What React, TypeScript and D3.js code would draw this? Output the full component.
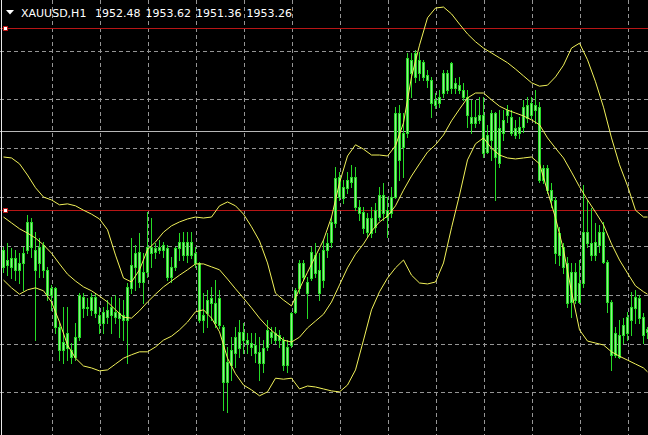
import React, { useEffect } from "react";
import * as d3 from "d3";

const W = 648;
const H = 435;

const symbol = "XAUUSD,H1";

// [open, high, low, close] per H1 bar, oldest first
const candles: [number, number, number, number][] = [
  [1965.9, 1970.0, 1964.8, 1969.4], [1967.3, 1970.8, 1964.2, 1966.3], [1965.9, 1969.8, 1963.6, 1967.7],
  [1967.7, 1969.4, 1963.2, 1965.3], [1965.3, 1968.7, 1962.6, 1966.7], [1966.7, 1970.0, 1961.2, 1968.7],
  [1969.4, 1976.5, 1968.7, 1975.1], [1975.1, 1975.9, 1967.9, 1970.0], [1969.4, 1973.0, 1950.9, 1965.3],
  [1966.7, 1971.8, 1963.8, 1970.0], [1970.4, 1971.0, 1963.8, 1965.3], [1965.3, 1965.9, 1959.1, 1960.1],
  [1960.1, 1962.2, 1957.1, 1961.6], [1961.6, 1961.8, 1952.4, 1953.6], [1953.6, 1954.4, 1946.8, 1948.9],
  [1948.9, 1957.7, 1946.2, 1950.5], [1949.3, 1957.7, 1946.8, 1952.4], [1948.9, 1950.3, 1946.2, 1947.4],
  [1947.4, 1954.4, 1946.8, 1951.5], [1951.5, 1960.5, 1950.9, 1960.1], [1959.7, 1960.5, 1955.6, 1957.5],
  [1957.5, 1959.5, 1956.0, 1957.7], [1957.1, 1960.5, 1956.0, 1959.7], [1959.7, 1960.5, 1955.6, 1956.4],
  [1956.0, 1957.7, 1952.4, 1954.4], [1954.4, 1957.7, 1952.4, 1956.7], [1957.1, 1959.1, 1954.4, 1955.6],
  [1956.0, 1959.7, 1952.4, 1957.7], [1956.7, 1960.1, 1954.4, 1955.6], [1956.4, 1959.5, 1951.5, 1955.4],
  [1956.0, 1959.1, 1950.9, 1955.0], [1955.0, 1962.6, 1946.2, 1961.8], [1961.6, 1971.8, 1960.5, 1966.3],
  [1965.9, 1970.4, 1961.2, 1968.7], [1968.9, 1972.8, 1961.8, 1962.8], [1962.8, 1968.7, 1958.5, 1964.8],
  [1964.8, 1977.1, 1963.8, 1970.0], [1970.0, 1975.9, 1965.9, 1968.7], [1968.9, 1970.8, 1967.7, 1969.8],
  [1969.4, 1971.4, 1968.7, 1970.0], [1969.4, 1971.0, 1967.9, 1970.4], [1969.8, 1970.4, 1963.2, 1963.8],
  [1963.8, 1967.9, 1962.8, 1965.9], [1965.9, 1970.0, 1965.3, 1969.8], [1969.8, 1972.8, 1967.3, 1971.0],
  [1971.0, 1973.0, 1967.3, 1968.3], [1968.3, 1973.0, 1966.9, 1971.0], [1971.0, 1973.0, 1967.7, 1968.3],
  [1968.7, 1970.0, 1965.9, 1966.7], [1966.7, 1966.9, 1954.6, 1955.0], [1955.0, 1960.5, 1952.6, 1956.0],
  [1956.4, 1961.2, 1953.6, 1959.1], [1959.5, 1961.8, 1955.0, 1958.5], [1958.5, 1963.2, 1953.6, 1954.4],
  [1954.0, 1961.2, 1953.4, 1959.5], [1953.6, 1954.0, 1936.6, 1942.3], [1942.3, 1949.5, 1936.2, 1946.4],
  [1945.8, 1951.5, 1942.7, 1948.9], [1948.3, 1953.6, 1945.4, 1951.5], [1949.3, 1955.0, 1947.4, 1952.6],
  [1952.6, 1954.4, 1948.3, 1950.9], [1950.9, 1952.4, 1948.3, 1950.3], [1950.3, 1952.4, 1947.9, 1949.5],
  [1949.9, 1952.4, 1946.4, 1948.3], [1948.5, 1951.5, 1942.7, 1946.2], [1946.2, 1950.9, 1944.4, 1949.3],
  [1949.5, 1955.0, 1948.9, 1953.0], [1952.6, 1953.6, 1950.3, 1951.5], [1952.4, 1953.6, 1950.3, 1950.9],
  [1951.9, 1953.0, 1949.5, 1950.9], [1950.9, 1951.5, 1944.8, 1945.8], [1945.8, 1950.9, 1944.4, 1949.5],
  [1949.9, 1956.7, 1949.5, 1956.4], [1956.7, 1961.6, 1956.4, 1961.2], [1961.6, 1967.3, 1960.5, 1966.7],
  [1966.7, 1967.3, 1963.2, 1963.8], [1962.8, 1963.8, 1955.4, 1960.5], [1963.6, 1970.0, 1963.2, 1968.9],
  [1968.3, 1970.8, 1963.8, 1964.6], [1965.3, 1968.7, 1959.1, 1960.5], [1963.2, 1971.4, 1961.8, 1969.4],
  [1969.4, 1972.8, 1967.9, 1970.8], [1971.0, 1976.1, 1970.0, 1975.1], [1974.9, 1986.4, 1974.1, 1984.1],
  [1984.3, 1985.3, 1979.6, 1980.2], [1980.0, 1983.7, 1979.0, 1982.3], [1982.1, 1985.3, 1981.0, 1983.7],
  [1983.3, 1986.8, 1982.3, 1984.3], [1984.3, 1986.4, 1977.5, 1978.2], [1978.2, 1979.6, 1975.5, 1976.9],
  [1977.1, 1978.2, 1972.8, 1973.9], [1975.9, 1976.9, 1972.0, 1973.0], [1972.8, 1978.2, 1972.0, 1975.9],
  [1974.1, 1979.0, 1973.0, 1977.5], [1976.1, 1982.3, 1975.5, 1980.6], [1980.6, 1983.1, 1975.5, 1976.9],
  [1977.5, 1980.2, 1972.0, 1976.1], [1976.9, 1982.3, 1976.1, 1980.2], [1980.2, 1998.6, 1980.0, 1997.4],
  [1997.4, 1999.0, 1983.7, 1987.8], [1990.4, 1997.4, 1984.3, 1993.3], [1993.3, 2009.7, 1992.5, 2008.7],
  [2008.3, 2009.7, 2000.7, 2005.6], [2004.8, 2010.3, 2003.8, 2009.7], [2008.3, 2009.9, 2004.2, 2005.6],
  [2007.9, 2008.3, 2004.2, 2004.8], [2005.2, 2006.2, 2002.7, 2004.2], [2004.2, 2004.8, 1996.6, 1999.5],
  [2000.1, 2001.5, 1998.4, 1999.0], [1999.5, 2002.1, 1998.6, 2000.7], [2001.5, 2006.2, 2000.7, 2005.6],
  [2005.6, 2006.2, 2001.5, 2002.1], [2002.5, 2007.9, 2001.5, 2007.6], [2003.6, 2004.6, 2001.5, 2002.5],
  [2003.2, 2004.8, 2001.5, 2002.1], [2002.1, 2003.6, 2000.1, 2000.7], [2000.7, 2002.1, 1994.5, 1997.0],
  [1996.6, 2000.1, 1993.3, 1995.4], [1995.4, 2000.1, 1994.5, 1996.6], [1996.0, 2000.7, 1995.4, 1997.0],
  [1997.0, 2000.7, 1988.4, 1989.2], [1989.4, 1995.0, 1989.2, 1992.9], [1991.9, 1998.0, 1987.8, 1997.4],
  [1997.4, 1997.6, 1979.6, 1988.4], [1987.2, 1998.0, 1986.4, 1994.3], [1993.3, 1998.0, 1991.9, 1996.0],
  [1997.0, 1999.0, 1995.6, 1998.0], [1996.6, 1998.0, 1992.9, 1993.3], [1994.3, 1996.0, 1992.3, 1992.9],
  [1993.3, 1996.6, 1992.3, 1994.5], [1994.5, 2000.1, 1993.5, 1998.6], [1999.0, 2000.7, 1995.6, 1996.4],
  [1997.0, 2000.7, 1996.4, 1999.5], [1999.0, 2002.1, 1995.4, 1998.0], [1998.6, 1999.7, 1983.3, 1983.7],
  [1983.7, 1986.8, 1983.1, 1986.1], [1986.1, 1986.8, 1981.0, 1981.6], [1981.6, 1983.1, 1978.2, 1979.6],
  [1979.6, 1980.2, 1966.7, 1968.7], [1968.3, 1974.1, 1966.3, 1972.8], [1970.0, 1970.8, 1964.6, 1965.9],
  [1966.7, 1967.9, 1957.7, 1958.5], [1958.7, 1966.7, 1955.6, 1964.8], [1964.8, 1966.7, 1958.5, 1959.1],
  [1958.7, 1967.3, 1958.5, 1962.6], [1962.6, 1982.7, 1961.8, 1973.0], [1973.0, 1979.6, 1970.0, 1970.8],
  [1970.8, 1978.0, 1967.3, 1968.3], [1968.3, 1974.9, 1967.3, 1971.0], [1970.4, 1974.5, 1968.9, 1973.0],
  [1973.0, 1975.1, 1966.7, 1966.9], [1966.9, 1967.3, 1956.7, 1958.7], [1958.7, 1959.1, 1944.8, 1947.9],
  [1947.9, 1953.6, 1947.4, 1952.4], [1951.9, 1955.0, 1947.2, 1947.4], [1951.9, 1955.4, 1950.3, 1954.0],
  [1952.4, 1956.7, 1950.9, 1955.6], [1955.0, 1960.8, 1951.9, 1957.7], [1957.5, 1961.2, 1954.4, 1959.7],
  [1959.5, 1960.1, 1954.4, 1955.4], [1955.6, 1956.4, 1950.3, 1951.9], [1952.48, 1953.62, 1951.36, 1953.26],
];

// Bollinger bands read every second bar (plus the last one)
const bandBars = d3.range(0, 161, 2).concat([161]);
const bandUpper = [
  1988.4, 1988.2, 1987.0, 1984.7, 1982.1, 1980.2, 1979.6, 1978.6, 1978.8, 1978.4,
  1977.5, 1976.7, 1975.7, 1973.5, 1968.3, 1963.6, 1962.8, 1965.3, 1969.4, 1971.0,
  1973.0, 1974.3, 1975.1, 1975.7, 1976.1, 1975.9, 1976.1, 1978.4, 1979.2, 1978.4,
  1976.7, 1974.1, 1971.2, 1966.7, 1960.5, 1959.1, 1957.9, 1961.4, 1964.8, 1968.1,
  1971.4, 1976.1, 1983.1, 1988.6, 1990.9, 1990.0, 1988.8, 1988.8, 1988.6, 1990.7,
  1995.4, 2004.8, 2011.3, 2016.9, 2018.9, 2019.1, 2017.7, 2015.6, 2013.6, 2012.0,
  2010.7, 2009.7, 2008.7, 2007.7, 2006.4, 2005.0, 2003.6, 2002.9, 2003.1, 2004.8,
  2007.2, 2010.7, 2011.7, 2008.3, 2003.8, 1998.6, 1992.3, 1986.8, 1982.5, 1977.5,
  1976.1, 1976.1,
];
const bandMiddle = [
  1976.1, 1974.9, 1973.7, 1972.8, 1971.8, 1970.4, 1968.7, 1966.5, 1964.4, 1963.0,
  1961.8, 1961.0, 1959.9, 1958.7, 1957.1, 1955.6, 1955.4, 1956.9, 1958.7, 1960.3,
  1961.8, 1963.0, 1964.2, 1965.3, 1966.5, 1966.5, 1965.9, 1965.3, 1963.4, 1961.4,
  1959.5, 1957.5, 1955.4, 1953.6, 1952.2, 1950.9, 1950.5, 1951.5, 1953.4, 1954.8,
  1956.2, 1958.7, 1962.2, 1965.7, 1968.5, 1970.6, 1973.2, 1975.1, 1976.3, 1978.4,
  1981.6, 1984.5, 1987.0, 1989.4, 1990.9, 1992.9, 1995.8, 1998.2, 2000.5, 2001.5,
  2001.5, 2000.1, 1998.8, 1998.0, 1997.4, 1996.8, 1996.0, 1995.0, 1992.3, 1990.2,
  1988.2, 1985.3, 1982.3, 1979.6, 1977.1, 1974.5, 1970.6, 1967.3, 1964.6, 1962.0,
  1960.8, 1960.3,
];
const bandLower = [
  1963.2, 1961.6, 1960.3, 1961.2, 1961.6, 1961.0, 1958.7, 1954.6, 1949.9, 1947.2,
  1945.6, 1945.2, 1944.6, 1944.8, 1946.0, 1947.2, 1947.9, 1948.5, 1948.5, 1949.5,
  1950.9, 1951.7, 1953.0, 1954.6, 1956.7, 1957.1, 1955.4, 1952.6, 1947.2, 1944.0,
  1941.7, 1940.7, 1939.5, 1940.3, 1943.1, 1942.9, 1943.1, 1940.9, 1941.5, 1941.3,
  1940.9, 1940.5, 1940.3, 1941.7, 1944.8, 1950.9, 1957.1, 1960.8, 1963.6, 1965.7,
  1967.3, 1964.2, 1962.6, 1962.4, 1962.8, 1966.7, 1973.9, 1980.6, 1987.8, 1991.1,
  1992.3, 1990.2, 1988.8, 1988.2, 1988.0, 1988.2, 1988.4, 1987.0, 1981.4, 1975.9,
  1969.4, 1960.8, 1953.0, 1950.7, 1950.3, 1949.9, 1948.5, 1947.6, 1946.8, 1946.0,
  1945.2, 1944.4,
];

const gridPrices = [1940, 1950, 1960, 1970, 1980, 1990, 2000, 2010];
const gridBars = [12, 24, 36, 48, 60, 72, 84, 96, 108, 120, 132, 144, 156];
const redLevels = [2014.6, 1977.3];
const greyLevel = 1993.5;

const GREEN = "#26dc26";
const BODY = "#94ec8e";
const YELLOW = "#f2f25a";
const GRID = "#959595";
const RED = "#b81616";

export default function App() {
  useEffect(() => {
    document.body.style.margin = "0";
    document.body.style.background = "#000";
  }, []);

  const x = d3.scaleLinear().domain([0, 161]).range([3, 647]);
  const y = d3.scaleLinear().domain([1950, 2010]).range([344.5, 51.5]);
  const py = (p: number) => Math.round(y(p)) - 0.5;

  const bandLine = (vals: number[]) =>
    d3
      .line<number>()
      .x((_, k) => x(bandBars[k]) + 0.5)
      .y((d) => y(d))(vals) || "";

  const last = candles[candles.length - 1];
  const header = [last[0], last[1], last[2], last[3]].map((v) => v.toFixed(2));

  return (
    <svg
      width={W}
      height={H}
      style={{ position: "absolute", left: 0, top: 0, display: "block" }}
    >
      <rect x={0} y={0} width={W} height={H} fill="#000" />

      {/* grid */}
      <g stroke={GRID} strokeWidth={1} strokeDasharray="4,3" shapeRendering="crispEdges">
        {gridPrices.map((p) => (
          <line key={"h" + p} x1={0} x2={W} y1={py(p)} y2={py(p)} />
        ))}
        {gridBars.map((b) => (
          <line key={"v" + b} x1={x(b) + 1.5} x2={x(b) + 1.5} y1={0} y2={H} />
        ))}
      </g>

      {/* horizontal level lines */}
      <g shapeRendering="crispEdges">
        <line x1={0} x2={W} y1={py(greyLevel)} y2={py(greyLevel)} stroke="#b8b8b8" />
        {redLevels.map((p) => (
          <line key={"r" + p} x1={0} x2={W} y1={py(p)} y2={py(p)} stroke={RED} />
        ))}
      </g>

      {/* candles */}
      <g shapeRendering="crispEdges">
        {candles.map(([o, h, l, c], i) => {
          const cx = x(i);
          const top = Math.round(y(Math.max(o, c)));
          const bot = Math.round(y(Math.min(o, c)));
          return (
            <g key={i}>
              <line
                x1={cx + 0.5}
                x2={cx + 0.5}
                y1={Math.round(y(h))}
                y2={Math.round(y(l)) + 1}
                stroke={GREEN}
              />
              <rect
                x={cx - 0.5}
                y={top + 0.5}
                width={2}
                height={Math.max(bot - top, 1)}
                fill={BODY}
                stroke={GREEN}
              />
            </g>
          );
        })}
      </g>

      {/* Bollinger bands */}
      <g fill="none" stroke={YELLOW} strokeWidth={1}>
        <path d={bandLine(bandUpper)} />
        <path d={bandLine(bandMiddle)} />
        <path d={bandLine(bandLower)} />
      </g>

      {/* level handles */}
      {redLevels.map((p) => (
        <rect
          key={"m" + p}
          x={3.5}
          y={py(p) - 2}
          width={4}
          height={4}
          fill="#fff"
          stroke={RED}
          shapeRendering="crispEdges"
        />
      ))}
      <line x1={1.5} x2={1.5} y1={0} y2={H} stroke="#e8e8e8" shapeRendering="crispEdges" />

      {/* header */}
      <polygon points="6,10 14,10 10,14.5" fill="#fff" />
      <g fill="#fff" fontFamily="DejaVu Sans, Verdana, sans-serif" fontSize={11}>
        <text x={21} y={17}>{symbol}</text>
        {header.map((t, k) => (
          <text key={t + k} x={95 + k * 50.5} y={17}>
            {t}
          </text>
        ))}
      </g>
    </svg>
  );
}
